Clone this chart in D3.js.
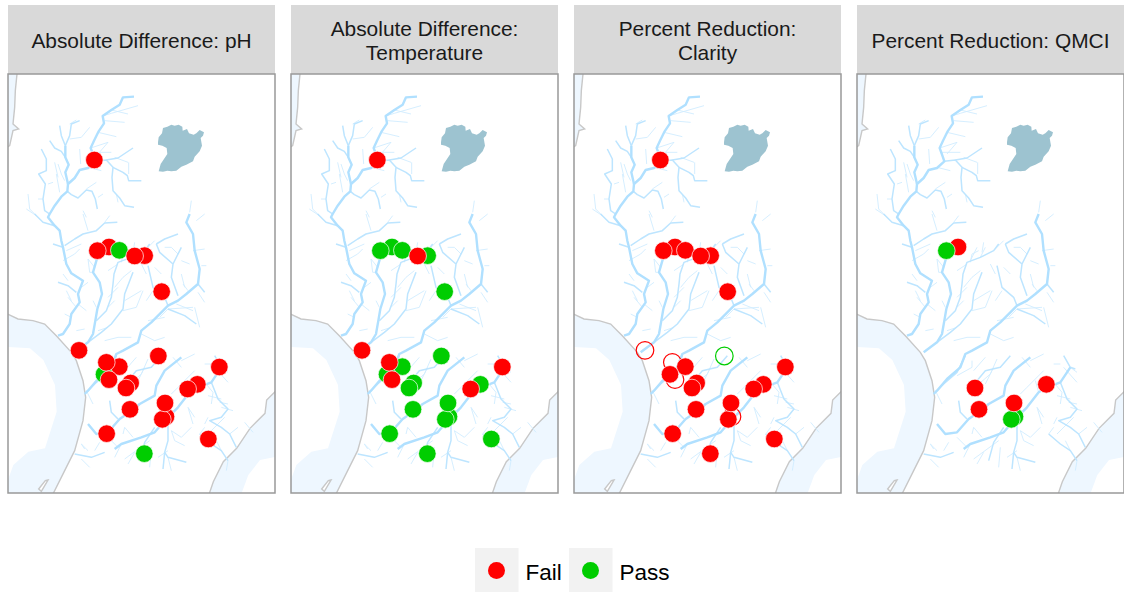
<!DOCTYPE html>
<html>
<head>
<meta charset="utf-8">
<script src="https://d3js.org/d3.v7.min.js"></script>
<style>
  html, body { margin: 0; padding: 0; background: #fff; }
  svg { display: block; }
  text { font-family: "Liberation Sans", Arial, sans-serif; }
</style>
</head>
<body>
<div id="chart"></div>
<script>
// facets
const facetTitles = [
  ["Absolute Difference: pH"],
  ["Absolute Difference:", "Temperature"],
  ["Percent Reduction:", "Clarity"],
  ["Percent Reduction: QMCI"]
];

// monitoring sites, in map grid units, listed in draw order
const siteX = [259, 303, 268, 334, 410, 380, 461, 213, 334, 288, 295, 303, 368, 354, 451, 634, 568, 539, 366, 474, 463, 471, 296, 601, 409];
const siteY = [258, 519, 530, 529, 545, 546, 653, 829, 878, 901, 865, 917, 927, 942, 846, 879, 931, 945, 1006, 1028, 1036, 987, 1079, 1095, 1139];

// result per site, same order as siteX. F fail, P pass, "" not assessed
const statusPh =      ["F","F","F","P","F","F","F","F","F","P","F","F","F","F","F","F","F","F","F","F","F","F","F","F","P"];
const statusTemp =    ["F","P","P","P","P","F","P","F","P","P","F","F","P","P","P","F","P","F","P","P","P","P","P","P","P"];
const statusClarity = ["F","F","F","F","F","F","F","F","F","F","F","F","F","F","P","F","F","F","F","F","F","F","F","F","F"];
const statusQmci =    ["","F","P","","","","","","","","","","","F","","","F","","F","P","P","F","","",""];
const statuses = [statusPh, statusTemp, statusClarity, statusQmci];

// sites shown as open rings on the clarity panel (index into siteX)
const openClarity = [7, 10, 11, 14, 19];

// map layers, all in the same grid units
const lake = [[450,205],[452,190],[462,178],[465,162],[478,158],[490,152],[500,155],[512,152],[523,158],[524,170],[537,165],[543,178],[557,182],[565,178],[575,168],[588,175],[585,185],[578,192],[582,215],[575,232],[560,248],[555,262],[535,272],[520,278],[505,290],[490,292],[478,290],[465,293],[452,292],[458,270],[468,255],[478,240],[476,222],[463,215],[450,212]];
const seaNorth = [[-10,-10],[28,-10],[22,50],[20,100],[15,150],[32,165],[15,170],[5,215],[-10,225]];
const seaWest = [[-10,716],[30,735],[75,740],[110,750],[145,785],[190,835],[205,860],[225,920],[233,970],[225,1040],[200,1130],[170,1190],[130,1270],[-10,1270]];
const seaWestOpen = [[-10,818],[66,823],[106,858],[141,933],[146,1013],[111,1123],[61,1133],[16,1173],[-10,1245]];
const seaEast = [[815,940],[801,953],[776,978],[771,1018],[726,1063],[686,1123],[646,1163],[616,1223],[600,1270],[815,1270]];
const seaEastOpen = [[815,1146],[756,1158],[721,1203],[696,1270],[815,1270]];
const lagoon = [[120,1218],[112,1220],[92,1245],[100,1252]];

const riversMain = [
  [[378,68],[345,70],[335,92],[310,108],[284,126],[288,148],[272,172],[258,200],[248,222],[258,250],[262,262],[240,282],[215,288],[200,312],[180,330],[178,352],[160,368],[140,395],[125,420],[120,430],[140,455],[155,470],[160,500],[165,520],[175,570],[190,598],[225,620],[210,660],[215,685],[190,720],[185,750],[165,780],[150,785]],
  [[268,550],[255,595],[275,625],[282,660],[268,705],[262,740],[255,780],[240,805],[200,835]],
  [[545,420],[535,445],[555,480],[560,530],[575,585],[570,630],[535,660],[510,680],[480,695],[460,715],[430,745],[400,770],[390,805],[345,830],[325,840],[310,880],[270,915],[240,950],[230,960]],
  [[640,880],[610,925],[570,940],[545,955],[510,1000],[485,1025],[470,1040],[440,1075],[400,1090],[340,1110],[320,1125]],
  [[520,850],[470,890],[445,935],[440,965],[395,990],[365,1015],[335,1035],[300,1075],[265,1080],[240,1050]],
  [[172,215],[172,250],[182,272],[172,295],[180,330]]
];
const riversMid = [
  [[262,262],[295,258],[315,280],[312,310],[315,350],[335,372],[350,395],[378,400]],
  [[315,280],[345,295],[358,305],[362,320],[400,320]],
  [[178,352],[190,362],[210,372],[235,348],[252,352],[262,375],[268,405]],
  [[100,225],[115,255],[115,290],[92,300],[112,330],[105,375],[110,410],[125,420]],
  [[155,155],[160,185],[172,215]],
  [[215,140],[190,150],[185,185],[172,215]],
  [[125,200],[140,222],[160,232],[172,250]],
  [[80,420],[105,445],[140,455]],
  [[170,515],[200,495],[225,480],[265,470],[290,447],[328,445]],
  [[135,510],[165,520]],
  [[150,625],[180,635],[205,655]],
  [[425,510],[410,530],[370,550],[330,565],[318,600],[315,630],[310,670],[295,710],[265,740]],
  [[375,595],[350,660],[345,705],[310,750],[280,775],[240,805]],
  [[445,510],[455,535],[495,570],[490,610],[510,665]],
  [[445,510],[470,495],[510,480]],
  [[420,575],[435,640],[470,670],[480,695]],
  [[520,520],[495,570]],
  [[570,630],[590,655]],
  [[480,705],[530,725],[565,750]],
  [[480,1050],[480,1100],[470,1135],[480,1150],[535,1165]],
  [[470,1135],[465,1185]],
  [[610,925],[630,975],[660,1005],[640,1030],[605,1040],[640,1060],[665,1080],[685,1120]],
  [[575,1080],[610,1110],[640,1130],[660,1160]],
  [[200,1140],[250,1150],[290,1135]],
  [[305,980],[310,1015],[330,1035]],
  [[440,1060],[410,1105],[395,1160]],
  [[620,845],[640,880],[655,885]],
  [[295,258],[330,252],[375,222]],
  [[460,845],[430,880],[385,890],[360,920]],
  [[325,845],[300,895],[260,930],[235,955]]
];
const riversThin = [
  [[284,126],[310,118],[390,95]],
  [[290,140],[350,145]],
  [[310,108],[360,120]],
  [[270,175],[325,188]],
  [[248,222],[300,205],[270,240]],
  [[255,235],[310,235]],
  [[245,160],[220,190],[185,195]],
  [[215,225],[218,270]],
  [[150,270],[160,300],[170,320]],
  [[145,300],[155,355]],
  [[60,360],[65,405],[80,420]],
  [[55,405],[85,425]],
  [[265,325],[235,345]],
  [[362,265],[362,300]],
  [[240,280],[280,290]],
  [[225,410],[235,430]],
  [[550,380],[545,415]],
  [[305,425],[290,445]],
  [[225,420],[240,470]],
  [[340,560],[360,520]],
  [[380,505],[375,535]],
  [[405,650],[385,700],[345,710]],
  [[580,575],[595,575]],
  [[590,685],[570,655]],
  [[480,705],[555,700]],
  [[175,530],[220,510]],
  [[240,555],[245,595],[255,595]],
  [[180,670],[205,700]],
  [[210,690],[235,710]],
  [[300,670],[330,640]],
  [[220,1155],[245,1180]],
  [[220,1110],[230,1125]],
  [[490,1070],[520,1090],[550,1060]],
  [[600,965],[640,975]],
  [[560,700],[575,760]],
  [[420,855],[400,900],[360,935]],
  [[600,1080],[650,1030]],
  [[710,1045],[735,1075]],
  [[540,1000],[560,1030]],
  [[350,1060],[375,1090]],
  [[425,1100],[350,1155]],
  [[520,860],[560,840]],
  [[620,880],[660,925]],
  [[165,560],[200,540],[215,525]],
  [[180,620],[165,600]],
  [[220,640],[240,625]],
  [[240,555],[260,580]],
  [[300,590],[330,570]],
  [[340,565],[345,540],[365,530]],
  [[370,550],[385,520]],
  [[410,530],[440,500]],
  [[320,640],[345,610],[370,590]],
  [[350,680],[400,650]],
  [[300,700],[320,680]],
  [[255,680],[265,700]],
  [[190,680],[175,650]],
  [[170,720],[190,730]],
  [[205,770],[230,765]],
  [[270,770],[300,760]],
  [[290,800],[330,790],[370,790]],
  [[400,780],[440,800],[470,790]],
  [[420,740],[470,730]],
  [[480,705],[455,730]],
  [[505,690],[555,710]],
  [[510,540],[490,520],[470,520]],
  [[545,570],[520,560]],
  [[555,530],[590,525]],
  [[565,440],[590,420]],
  [[520,600],[530,640]],
  [[540,650],[525,630]],
  [[435,650],[415,680]],
  [[440,580],[460,600]],
  [[400,570],[415,600]],
  [[235,950],[255,990]],
  [[300,905],[345,880],[345,860]],
  [[385,850],[350,890]],
  [[410,880],[385,930]],
  [[495,850],[520,880]],
  [[560,890],[510,940],[490,960]],
  [[545,955],[535,920]],
  [[590,870],[610,870]],
  [[590,925],[615,955],[610,990]],
  [[640,880],[660,895]],
  [[635,985],[660,990]],
  [[640,1000],[675,1010]],
  [[600,1030],[590,1050]],
  [[540,1000],[555,1050]],
  [[490,1070],[500,1100],[530,1115]],
  [[430,1120],[425,1180]],
  [[380,1135],[360,1170]],
  [[340,1110],[320,1150]],
  [[480,1130],[450,1150]],
  [[480,1150],[490,1190]],
  [[300,1090],[330,1120]],
  [[350,1060],[345,1080]],
  [[275,1105],[260,1130]],
  [[240,1130],[220,1110]],
  [[665,1080],[690,1060]],
  [[640,1130],[625,1100]],
  [[575,1080],[590,1060]],
  [[660,1160],[655,1190]],
  [[185,150],[205,138]],
  [[140,265],[150,310]],
  [[120,330],[135,325]],
  [[105,375],[90,375]],
  [[270,370],[285,360]],
  [[330,385],[325,360]],
  [[320,250],[360,265]]
];

// legend
const legendLabels = ["Fail", "Pass"];

// Layout
const width = 1124;
const height = 592;
const panelW = 267;
const panelH = 419;
const panelTop = 74;
const stripTop = 5;
const panelLefts = [8, 291, 574, 857];

const x = d3.scaleLinear().domain([0, 801]).range([0, panelW]);
const y = d3.scaleLinear().domain([0, 1257]).range([0, panelH]);
const color = d3.scaleOrdinal().domain(["F", "P"]).range(["#ff0000", "#00cd00"]);

const line = d3.line().x(d => x(d[0])).y(d => y(d[1]));
const area = d3.line().x(d => x(d[0])).y(d => y(d[1])).curve(d3.curveLinearClosed);

const svg = d3.select("#chart").append("svg").attr("width", width).attr("height", height);
const defs = svg.append("defs");

defs.append("clipPath").attr("id", "panel-clip")
  .append("rect").attr("width", panelW).attr("height", panelH);

// the rivers are soft in the reference
defs.append("filter").attr("id", "soft")
  .append("feGaussianBlur").attr("stdDeviation", 0.35);

facetTitles.forEach(function(title, f) {
  const left = panelLefts[f];

  // strip
  svg.append("rect")
    .attr("x", left).attr("y", stripTop)
    .attr("width", panelW).attr("height", panelTop - stripTop)
    .attr("fill", "#d9d9d9");

  const label = svg.append("text")
    .attr("x", left + panelW / 2)
    .attr("text-anchor", "middle")
    .attr("font-size", 20.9)
    .attr("fill", "#1a1a1a");
  title.forEach(function(t, i) {
    label.append("tspan")
      .attr("x", left + panelW / 2)
      .attr("y", (title.length === 1 ? 47.5 : 36) + i * 23.5)
      .text(t);
  });

  const g = svg.append("g").attr("transform", "translate(" + left + "," + panelTop + ")");
  const map = g.append("g").attr("clip-path", "url(#panel-clip)");

  // sea and coast
  [seaNorth, seaWest, seaEast].forEach(function(p) {
    map.append("path").attr("d", area(p)).attr("fill", "#eef7ff")
      .attr("stroke", "#c8c8c8").attr("stroke-width", 1.4);
  });
  [seaWestOpen, seaEastOpen].forEach(function(p) {
    map.append("path").attr("d", area(p)).attr("fill", "#fff");
  });
  map.append("path").attr("d", area(lagoon)).attr("fill", "#fff")
    .attr("stroke", "#c8c8c8").attr("stroke-width", 1.4);

  // rivers
  const rivers = map.append("g").attr("filter", "url(#soft)");
  [[riversThin, 0.9, "#d0ecff"], [riversMid, 1.5, "#bde5ff"], [riversMain, 2.4, "#b0e0ff"]].forEach(function(layer) {
    rivers.selectAll(null).data(layer[0]).enter().append("path")
      .attr("d", line)
      .attr("fill", "none")
      .attr("stroke", layer[2])
      .attr("stroke-width", layer[1])
      .attr("stroke-linejoin", "round");
  });

  map.append("path").attr("d", area(lake)).attr("fill", "#9dc3d0");

  // sites: open rings go underneath the solid ones
  const sites = statuses[f]
    .map((s, i) => ({ i: i, status: s, open: f === 2 && openClarity.includes(i) }))
    .filter(d => d.status !== "");
  const ordered = sites.filter(d => d.open).concat(sites.filter(d => !d.open));

  map.selectAll("circle").data(ordered).enter().append("circle")
    .attr("cx", d => x(siteX[d.i]))
    .attr("cy", d => y(siteY[d.i]))
    .attr("r", 8.8)
    .attr("fill", d => d.open ? "none" : color(d.status))
    .attr("stroke", d => d.open ? color(d.status) : "#fff")
    .attr("stroke-width", d => d.open ? 1.2 : 0.7);

  // border
  g.append("rect")
    .attr("width", panelW).attr("height", panelH)
    .attr("fill", "none")
    .attr("stroke", "#999")
    .attr("stroke-width", 1.5);
});

// Legend
const legendKeys = [475, 569];
legendLabels.forEach(function(name, i) {
  const k = legendKeys[i];
  svg.append("rect")
    .attr("x", k).attr("y", 548)
    .attr("width", 43.5).attr("height", 44)
    .attr("fill", "#f2f2f2");
  svg.append("circle")
    .attr("cx", k + 21.5).attr("cy", 570.5)
    .attr("r", 8.5)
    .attr("fill", color(name[0]));
  svg.append("text")
    .attr("x", k + 50.5)
    .attr("y", 579.5)
    .attr("font-size", 22.5)
    .attr("fill", "#000")
    .text(name);
});
</script>
</body>
</html>
